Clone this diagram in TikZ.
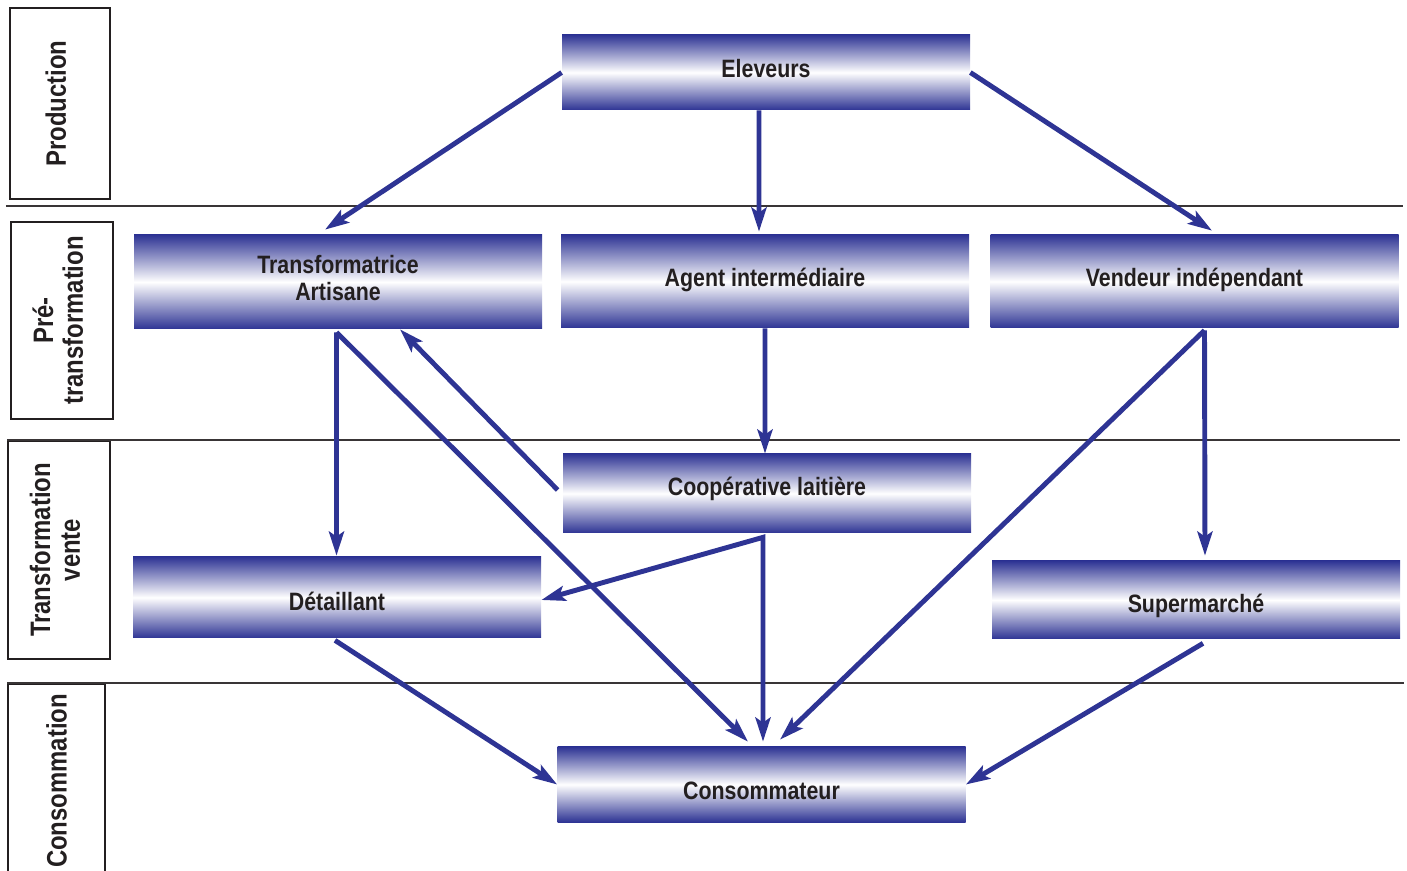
\documentclass[tikz,border=0pt]{standalone}
\usepackage{fontspec}
\usepackage{tikz}
\newfontfamily\cond{Liberation Sans}[FakeStretch=0.85]
\usetikzlibrary{arrows.meta}
\definecolor{filiere}{RGB}{46,52,148}
\definecolor{encre}{RGB}{35,31,32}
\tikzset{
    >={Stealth[length=0.48cm, width=0.3cm, inset=0.1cm]},
    etape/.style={minimum width=8.16cm, inner sep=0pt, text=encre, align=center,
        top color=filiere, bottom color=filiere, middle color=white, text depth=0.17cm,
        font=\cond\bfseries\fontsize{14.3}{15.3}\selectfont},
    bas/.style={text depth=0pt, text height=#1},
    niveau/.style={draw=encre, line width=1.3pt, rotate=90, inner sep=0pt, align=center,
        text=encre, font=\cond\bfseries\fontsize{16}{17}\selectfont},
    fleche/.style={draw=filiere, line width=2.8pt, ->},
    trait/.style={draw=encre!90, line width=1.1pt}
}
\begin{document}
\begin{tikzpicture}
        \useasboundingbox (0, 0) rectangle (28.14, -17.42);
        
        \node[niveau, text depth=0.17cm, minimum width=3.82cm, minimum height=2.0cm] (prod) at (1.2, -2.07) {Production};
        \node[niveau, text depth=0.17cm, minimum width=3.94cm, minimum height=2.04cm] (pre) at (1.24, -6.41) {Pré-\\transformation};
        \node[niveau, text depth=0.17cm, minimum width=4.36cm, minimum height=2.04cm] (tv) at (1.18, -11.0) {Transformation\\vente};
        \node[niveau, minimum width=3.9cm, minimum height=1.94cm] (cons) at (1.13, -15.62) {Consommation};
        
        \coordinate (l1a) at (0.12, -4.12);
        \coordinate (l1b) at (28.06, -4.12);
        \coordinate (l2a) at (0.14, -8.80);
        \coordinate (l2b) at (28.0, -8.80);
        \coordinate (l3a) at (0.14, -13.66);
        \coordinate (l3b) at (28.08, -13.66);
        \draw[trait] (l1a) -- (l1b);
        \draw[trait] (l2a) -- (l2b);
        \draw[trait] (l3a) -- (l3b);
        
        \node[etape, minimum height=1.5cm] (elev) at (15.32, -1.45) {Eleveurs};
        
        \node[etape, minimum height=1.88cm] (trans) at (6.76, -5.64) {Transformatrice\\Artisane};
        \node[etape, minimum height=1.86cm] (agent) at (15.30, -5.63) {Agent intermédiaire};
        \node[etape, minimum height=1.86cm] (vend) at (23.89, -5.63) {Vendeur indépendant};
        
        \node[etape, text depth=0.29cm, minimum height=1.58cm] (coop) at (15.34, -9.87) {Coopérative laitière};
        
        \node[etape, bas=0.52cm, minimum height=1.62cm] (detail) at (6.74, -11.95) {Détaillant};
        \node[etape, bas=0.52cm, minimum height=1.56cm] (super) at (23.92, -12.00) {Supermarché};
        
        \node[etape, bas=0.6cm, minimum height=1.5cm] (conso) at (15.23, -15.69) {Consommateur};
        
        \coordinate (fourche) at ([xshift=-0.08cm, yshift=-0.08cm]coop.south);
        \coordinate (depart) at ([xshift=0.2cm, yshift=-0.04cm]vend.south);
        
        \draw[fleche] (elev.west) -- ([xshift=-0.26cm, yshift=0.1cm]trans.north);
        \draw[fleche] ([xshift=-0.14cm]elev.south) -- ([xshift=-0.12cm, yshift=0.06cm]agent.north);
        \draw[fleche] (elev.east) -- ([xshift=0.35cm, yshift=0.08cm]vend.north);
        
        \draw[fleche] ([xshift=-0.03cm, yshift=-0.06cm]trans.south) -- ([xshift=-0.01cm, yshift=0.02cm]detail.north);
        \draw[fleche] ([xshift=-0.03cm, yshift=-0.06cm]trans.south) -- ([xshift=-0.27cm, yshift=0.1cm]conso.north);
        \draw[fleche] ([xshift=-0.1cm, yshift=0.07cm]coop.west) -- ([xshift=1.24cm]trans.south);
        
        \draw[fleche] (agent.south) -- ([xshift=-0.04cm]coop.north);
        \draw[fleche, <->] ([yshift=-0.05cm]detail.east) -- (fourche) -- ([xshift=0.03cm, yshift=0.1cm]conso.north);
        
        \draw[fleche] (depart) -- ([xshift=0.37cm, yshift=0.14cm]conso.north);
        \draw[fleche] (depart) -- ([xshift=0.18cm, yshift=0.1cm]super.north);
        
        \draw[fleche] ([xshift=-0.04cm, yshift=-0.04cm]detail.south) -- (conso.west);
        \draw[fleche] ([xshift=0.14cm, yshift=-0.08cm]super.south) -- (conso.east);
    \end{tikzpicture}
\end{document}
